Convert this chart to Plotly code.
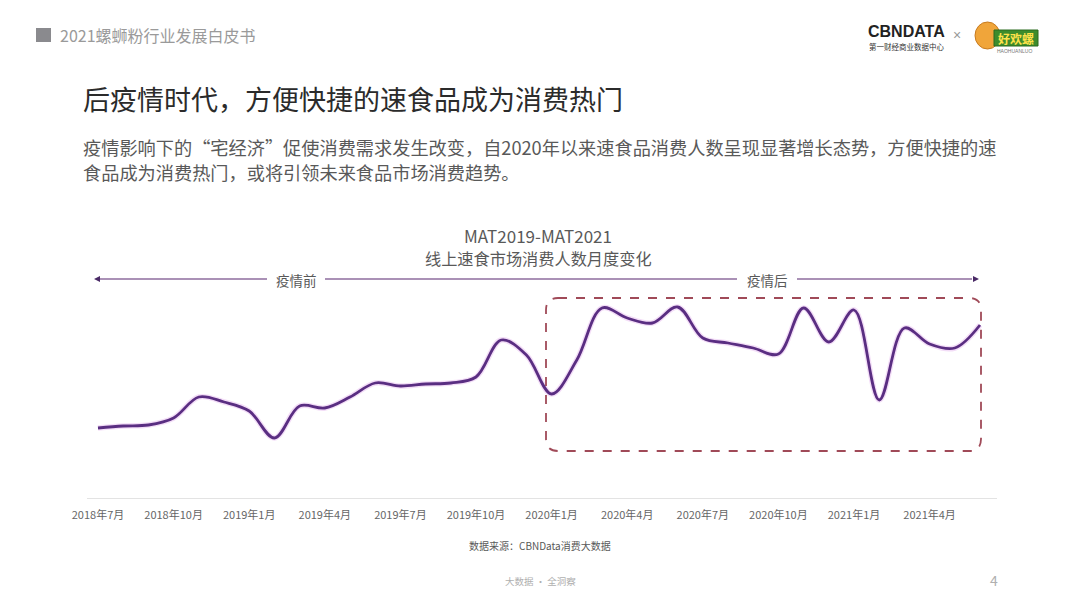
import plotly.graph_objects as go

# ---- data ----
months = ["2018年7月", "2018年8月", "2018年9月", "2018年10月", "2018年11月", "2018年12月",
          "2019年1月", "2019年2月", "2019年3月", "2019年4月", "2019年5月", "2019年6月",
          "2019年7月", "2019年8月", "2019年9月", "2019年10月", "2019年11月", "2019年12月",
          "2020年1月", "2020年2月", "2020年3月", "2020年4月", "2020年5月", "2020年6月",
          "2020年7月", "2020年8月", "2020年9月", "2020年10月", "2020年11月", "2020年12月",
          "2021年1月", "2021年2月", "2021年3月", "2021年4月", "2021年5月", "2021年6月"]
consumers = [70, 72, 73, 80, 101, 96, 87, 60, 92, 90, 101, 115,
             112, 114, 115, 121, 158, 143, 104, 138, 190, 180, 175, 191,
             160, 155, 150, 144, 190, 156, 188, 98, 170, 154, 150, 173]
tick_labels = ["2018年7月", "2018年10月", "2019年1月", "2019年4月", "2019年7月", "2019年10月",
               "2020年1月", "2020年4月", "2020年7月", "2020年10月", "2021年1月", "2021年4月"]

W, H = 1080, 608
CJK = "Noto Sans CJK SC"

def px(x):
    return x / W

def py(y):
    return 1 - y / H

fig = go.Figure()
fig.add_trace(go.Scatter(x=months, y=consumers, mode="lines",
                         line=dict(color="rgba(228,180,238,0.45)", width=5.5, shape="spline", smoothing=1.0),
                         hoverinfo="skip", showlegend=False))
fig.add_trace(go.Scatter(x=months, y=consumers, mode="lines",
                         line=dict(color="#5a2e82", width=2.8, shape="spline", smoothing=1.0),
                         hoverinfo="skip", showlegend=False))

x0_px, x1_px, step = 98, 980, (980 - 98) / 35
ax_l, ax_r = 87, 997
fig.update_xaxes(
    type="category", domain=[px(ax_l), px(ax_r)],
    range=[(ax_l - x0_px) / step, (ax_r - x0_px) / step],
    tickvals=tick_labels, ticktext=tick_labels,
    showline=True, linecolor="#e3e3e3", linewidth=1.2,
    ticks="outside", ticklen=7, tickcolor="rgba(0,0,0,0)",
    tickfont=dict(family=CJK, size=11, color="#666666"),
    showgrid=False, zeroline=False, fixedrange=True, automargin=False,
)
fig.update_yaxes(domain=[py(498), 1], range=[0, 498], visible=False, showgrid=False,
                 fixedrange=True, automargin=False)

shapes = []
# header square
shapes.append(dict(type="rect", xref="paper", yref="paper", x0=px(36), x1=px(51), y0=py(42), y1=py(28),
                   fillcolor="#8a8a8e", line=dict(width=0)))
# dashed rounded box
bl, bt, br, bb, r = 546, 298, 981, 451, 12
path = (f"M {px(bl + r)},{py(bt)} L {px(br - r)},{py(bt)} Q {px(br)},{py(bt)} {px(br)},{py(bt + r)} "
        f"L {px(br)},{py(bb - r)} Q {px(br)},{py(bb)} {px(br - r)},{py(bb)} "
        f"L {px(bl + r)},{py(bb)} Q {px(bl)},{py(bb)} {px(bl)},{py(bb - r)} "
        f"L {px(bl)},{py(bt + r)} Q {px(bl)},{py(bt)} {px(bl + r)},{py(bt)} Z")
shapes.append(dict(type="path", xref="paper", yref="paper", path=path,
                   line=dict(color="#a04a58", width=1.8, dash="dash")))
# arrow lines segments
ac = "#8e6d9e"
ay_ = 279
for a, b in [(100, 267), (325, 737), (797, 972)]:
    shapes.append(dict(type="line", xref="paper", yref="paper", x0=px(a), x1=px(b), y0=py(ay_), y1=py(ay_),
                       line=dict(color=ac, width=1.3)))
# arrow heads
shapes.append(dict(type="path", xref="paper", yref="paper",
                   path=f"M {px(94)},{py(ay_)} L {px(100)},{py(ay_-3)} L {px(100)},{py(ay_+3)} Z",
                   fillcolor="#4a2a66", line=dict(width=0)))
shapes.append(dict(type="path", xref="paper", yref="paper",
                   path=f"M {px(979)},{py(ay_)} L {px(973)},{py(ay_-3)} L {px(973)},{py(ay_+3)} Z",
                   fillcolor="#4a2a66", line=dict(width=0)))
# logo shapes
shapes.append(dict(type="circle", xref="paper", yref="paper", x0=px(975), x1=px(1000), y0=py(49), y1=py(22),
                   fillcolor="#f0a53a", line=dict(color="#c77a1e", width=1)))
shapes.append(dict(type="rect", xref="paper", yref="paper", x0=px(994), x1=px(1038), y0=py(46), y1=py(30),
                   fillcolor="#3d8c2c", line=dict(color="#2a6a1e", width=1)))

ann = []
def text(x, y, s, size, color, anchor="left", family=CJK, bold=False):
    if bold:
        s = f"<b>{s}</b>"
    ann.append(dict(x=px(x), y=py(y), xref="paper", yref="paper", text=s, showarrow=False,
                    xanchor=anchor, yanchor="middle", font=dict(family=family, size=size, color=color)))

text(58, 35, "2021螺蛳粉行业发展白皮书", 16, "#9a9a9a")
text(81, 98, "后疫情时代，方便快捷的速食品成为消费热门", 27, "#2b2b2b")
text(81, 147, "疫情影响下的“宅经济”促使消费需求发生改变，自2020年以来速食品消费人数呈现显著增长态势，方便快捷的速", 18.2, "#595959")
text(81, 172, "食品成为消费热门，或将引领未来食品市场消费趋势。", 18.2, "#595959")
text(538, 236, "MAT2019-MAT2021", 17, "#595959", anchor="center")
text(538, 258, "线上速食市场消费人数月度变化", 16.2, "#595959", anchor="center")
text(296, 280, "疫情前", 13.5, "#595959", anchor="center")
text(767, 280, "疫情后", 13.5, "#595959", anchor="center")
text(540, 545, "数据来源：CBNData消费大数据", 10, "#595959", anchor="center")
text(540, 581, "大数据 · 全洞察", 9.5, "#b0b0b0", anchor="center")
text(994, 580, "4", 14, "#b0b0b0", anchor="center")
# logos
text(906, 32, "CBNDATA", 16, "#222222", anchor="center", family="Liberation Sans", bold=True)
text(906, 47, "第一财经商业数据中心", 7.5, "#333333", anchor="center")
text(957, 35, "×", 14, "#999999", anchor="center", family="Liberation Sans")
text(1016, 38, "好欢螺", 12, "#ffe24a", anchor="center", bold=True)
text(1014, 51, "HAOHUANLUO", 5, "#777777", anchor="center", family="Liberation Sans")

fig.update_layout(width=W, height=H, margin=dict(l=0, r=0, t=0, b=0, autoexpand=False),
                  paper_bgcolor="white", plot_bgcolor="white",
                  shapes=shapes, annotations=ann, showlegend=False, hovermode=False)

fig.write_html("out.html", config={"displayModeBar": False, "staticPlot": True})
